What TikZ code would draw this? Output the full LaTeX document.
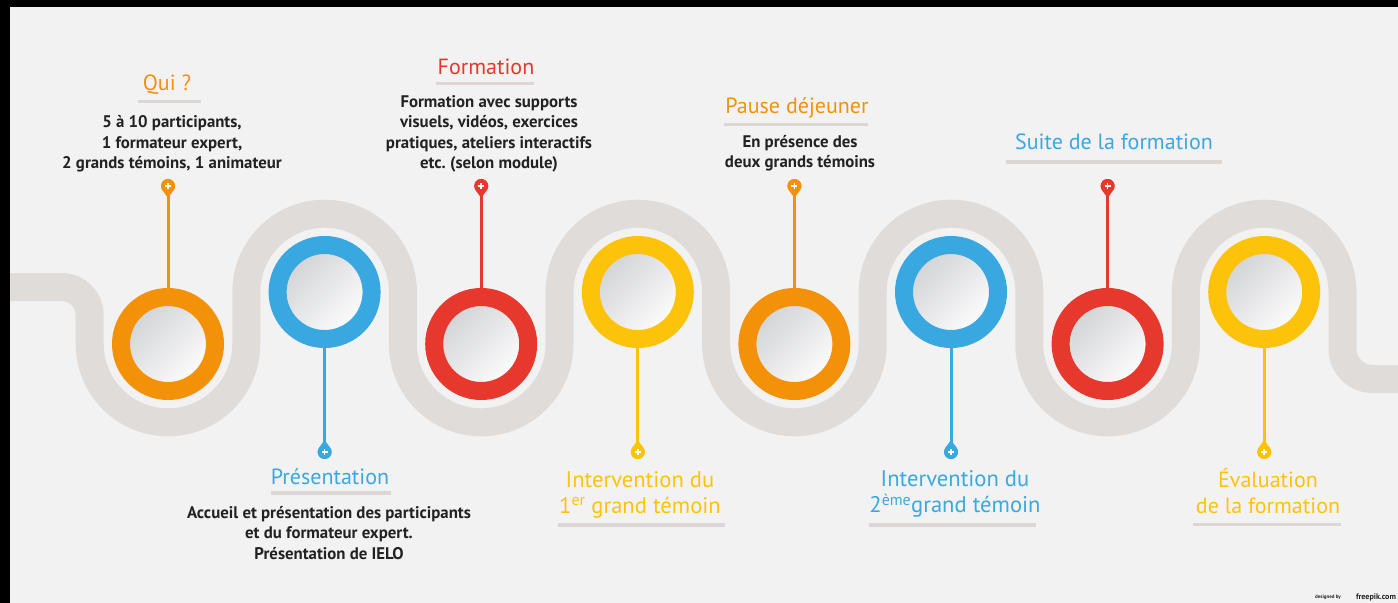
\documentclass[tikz,border=0pt]{standalone}
\usepackage{fontspec}
\setmainfont{PT Sans}
\frenchspacing
\definecolor{bg}{HTML}{F2F2F2}
\definecolor{road}{HTML}{E0DCDA}
\definecolor{bar}{HTML}{DCD7D4}
\definecolor{corange}{HTML}{F39208}
\definecolor{cblue}{HTML}{3AA8E0}
\definecolor{cred}{HTML}{E6382D}
\definecolor{cyellow}{HTML}{FDC30A}
\definecolor{txt}{HTML}{222222}
\definecolor{discA}{HTML}{D0D1D4}
\tikzset{
  ring/.style={circle, minimum size=94bp, inner sep=0pt, line width=18bp, draw=#1,
    shading=axis, top color=discA, bottom color=white, shading angle=45},
  pinhead/.style={circle, fill=#1, minimum size=14bp, inner sep=0pt},
  stem/.style={draw=#1, line width=3bp},
  ttl/.style={text=#1, font=\fontsize{22bp}{26bp}\selectfont, align=center, inner sep=0pt},
  bigttl/.style={text=#1, font=\fontsize{22.6bp}{26bp}\selectfont, align=center, inner sep=0pt},
  bodytxt/.style={text=txt, font=\bfseries\fontsize{16.8bp}{20.3bp}\selectfont, align=center, inner sep=0pt},
  ulbar/.style={fill=bar},
}
\newcommand{\pindown}[2]{%
  \fill[#2, shift={(#1.center)}] (0,12) -- (35.7:7) arc[start angle=35.7,end angle=-215.7,radius=7] -- cycle;
  \draw[white, line width=1.6bp, shift={(#1.center)}] (-3,0) -- (3,0) (0,-3) -- (0,3);}
\newcommand{\pinup}[2]{%
  \fill[#2, shift={(#1.center)}] (0,-12) -- (-35.7:7) arc[start angle=-35.7,end angle=215.7,radius=7] -- cycle;
  \draw[white, line width=1.6bp, shift={(#1.center)}] (-3,0) -- (3,0) (0,-3) -- (0,3);}
\begin{document}
\begin{tikzpicture}[x=1bp,y=-1bp]
\useasboundingbox (0,0) rectangle (1398,603);
% frame and background
\fill[black] (0,0) rectangle (1398,603);
\fill[bg] (10,7) rectangle (1398,603);
% road
\draw[road, line width=28bp]
  (10,287) -- (61.7,287) arc[start angle=-90,end angle=0,radius=28]
  -- (89.7,344) arc[start angle=180,end angle=0,radius=78.3]
  -- (246.3,292) arc[start angle=180,end angle=360,radius=78.3]
  -- (402.9,344) arc[start angle=180,end angle=0,radius=78.3]
  -- (559.5,292) arc[start angle=180,end angle=360,radius=78.3]
  -- (716.1,344) arc[start angle=180,end angle=0,radius=78.3]
  -- (872.7,292) arc[start angle=180,end angle=360,radius=78.3]
  -- (1029.3,344) arc[start angle=180,end angle=0,radius=78.3]
  -- (1185.9,292) arc[start angle=180,end angle=360,radius=78.3]
  -- (1342.5,349) arc[start angle=180,end angle=90,radius=30]
  -- (1398,379);
% rings
\node[ring=corange] (c1) at (168,344) {};
\node[ring=cblue]   (c2) at (324.6,292) {};
\node[ring=cred]    (c3) at (481.2,344) {};
\node[ring=cyellow] (c4) at (637.8,292) {};
\node[ring=corange] (c5) at (794.4,344) {};
\node[ring=cblue]   (c6) at (951,292) {};
\node[ring=cred]    (c7) at (1107.6,344) {};
\node[ring=cyellow] (c8) at (1264.2,292) {};
% pins
\node[pinhead=corange] (p1) at (168,186) {};
\node[pinhead=cblue]   (p2) at (324.6,452) {};
\node[pinhead=cred]    (p3) at (481.2,186) {};
\node[pinhead=cyellow] (p4) at (637.8,452) {};
\node[pinhead=corange] (p5) at (794.4,186) {};
\node[pinhead=cblue]   (p6) at (951,452) {};
\node[pinhead=cred]    (p7) at (1107.6,186) {};
\node[pinhead=cyellow] (p8) at (1264.2,452) {};
\draw[stem=corange] (p1) -- (c1);
\draw[stem=cblue]   (p2) -- (c2);
\draw[stem=cred]    (p3) -- (c3);
\draw[stem=cyellow] (p4) -- (c4);
\draw[stem=corange] (p5) -- (c5);
\draw[stem=cblue]   (p6) -- (c6);
\draw[stem=cred]    (p7) -- (c7);
\draw[stem=cyellow] (p8) -- (c8);
\pindown{p1}{corange}\pindown{p3}{cred}\pindown{p5}{corange}\pindown{p7}{cred}
\pinup{p2}{cblue}\pinup{p4}{cyellow}\pinup{p6}{cblue}\pinup{p8}{cyellow}
% top labels
\node[ttl=corange] (t1) at (167,85) {Qui ?};
\fill[ulbar] (138,100) rectangle (201,103.5);
\node[bodytxt] (b1) at (172,144) {5 à 10 participants,\\1 formateur expert,\\2 grands témoins, 1 animateur};
\node[ttl=cred] (t3) at (486,67) {Formation};
\fill[ulbar] (436,82) rectangle (534,85.5);
\node[bodytxt] (b3) at (489,134) {Formation avec supports\\visuels, vidéos, exercices\\pratiques, ateliers interactifs\\etc. (selon module)};
\node[ttl=corange] (t5) at (797,108) {Pause déjeuner};
\fill[ulbar] (724,123) rectangle (868,126.5);
\node[bodytxt] (b5) at (800,153) {En présence des\\deux grands témoins};
\node[ttl=cblue] (t7) at (1114,142) {Suite de la formation};
\fill[ulbar] (1006,160) rectangle (1222,164);
% bottom labels
\node[ttl=cblue] (t2) at (330,477) {Présentation};
\fill[ulbar] (271,491) rectangle (391,494.5);
\node[bodytxt] (b2) at (329,533) {Accueil et présentation des participants\\et du formateur expert.\\Présentation de IELO};
\node[bigttl=cyellow] (t4) at (640,494.5) {Intervention du\\1\textsuperscript{er} grand témoin};
\fill[ulbar] (558,523) rectangle (725,527);
\node[bigttl=cblue] (t6) at (955,494) {Intervention du\\2\textsuperscript{ème}grand témoin};
\fill[ulbar] (869,523) rectangle (1036,527);
\node[ttl=cyellow] (t8) at (1268,491) {Évaluation\\de la formation};
\fill[ulbar] (1193,523) rectangle (1341,526);
% credit
\node[text=txt, font=\bfseries\fontsize{5bp}{6bp}\selectfont, inner sep=0pt] (cr1) at (1328,597) {designed by};
\node[text=txt, font=\bfseries\fontsize{8bp}{9bp}\selectfont, inner sep=0pt] (cr2) at (1376,597) {freepik.com};
\end{tikzpicture}
\end{document}
